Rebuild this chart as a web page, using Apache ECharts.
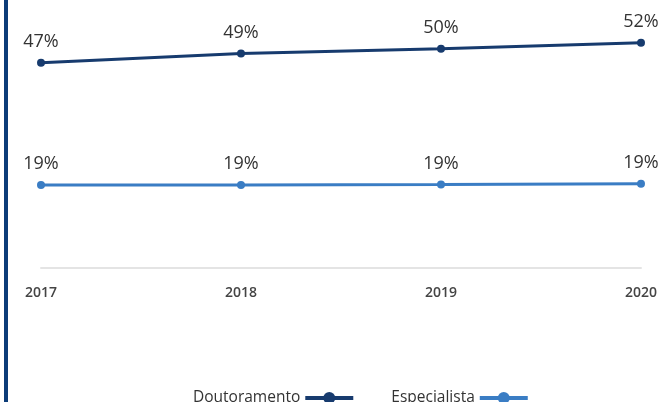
<!DOCTYPE html>
<html>
<head>
<meta charset="utf-8">
<script src="https://cdn.jsdelivr.net/npm/echarts@6/dist/echarts.min.js"></script>
<style>
  html, body { margin: 0; padding: 0; background: #fff; }
  #chart { width: 662px; height: 402px; }
</style>
</head>
<body>
<div id="chart"></div>
<script>
// anos
const years = ['2017', '2018', '2019', '2020']
// percentagens por grau
const doutoramento = [47, 49.1, 50.2, 51.6]
const especialista = [19, 19, 19.1, 19.3]

const chart = echarts.init(document.getElementById('chart'))

const pct = p => Math.round(p.value) + '%'

const option = {
  animation: false,
  textStyle: { fontFamily: 'Open Sans, sans-serif' },
  graphic: [
    {
      type: 'rect',
      shape: { x: 4, y: 0, width: 4, height: 402 },
      style: { fill: '#0c3c78' }
    }
  ],
  grid: { left: 41, right: 21, top: 6, bottom: 134 },
  legend: {
    top: 385,
    left: 188,
    align: 'right',
    itemGap: 36,
    itemWidth: 48,
    itemHeight: 15,
    lineStyle: { width: 4 },
    textStyle: { fontSize: 15.5, color: '#333' },
    data: ['Doutoramento', 'Especialista']
  },
  xAxis: {
    type: 'category',
    data: years,
    boundaryGap: false,
    axisLine: { lineStyle: { color: '#e4e4e4', width: 2 } },
    axisTick: { show: false },
    axisLabel: { color: '#444', fontSize: 14, fontWeight: 600, margin: 18 }
  },
  yAxis: {
    type: 'value',
    min: 0,
    max: 60,
    show: false,
    splitLine: { show: false }
  },
  series: [
    {
      name: 'Doutoramento',
      type: 'line',
      data: doutoramento,
      color: '#173b6e',
      lineStyle: { width: 3 },
      symbol: 'circle',
      symbolSize: 8,
      label: { show: true, position: 'top', distance: 8, fontSize: 18, color: '#333', formatter: pct }
    },
    {
      name: 'Especialista',
      type: 'line',
      data: especialista,
      color: '#3a7dc4',
      lineStyle: { width: 3 },
      symbol: 'circle',
      symbolSize: 8,
      label: { show: true, position: 'top', distance: 8, fontSize: 18, color: '#333', formatter: pct }
    }
  ]
}

chart.setOption(option)
</script>
</body>
</html>
